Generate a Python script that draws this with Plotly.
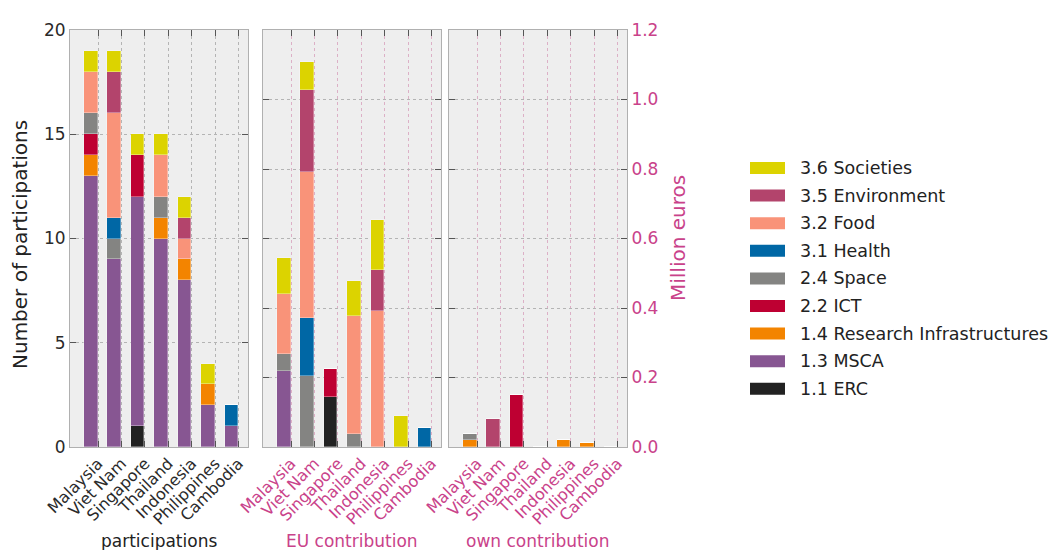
import plotly.graph_objects as go

countries = ["Malaysia", "Viet Nam", "Singapore", "Thailand", "Indonesia", "Philippines", "Cambodia"]
programmes = ["1.1 ERC", "1.3 MSCA", "1.4 Research Infrastructures", "2.2 ICT", "2.4 Space",
              "3.1 Health", "3.2 Food", "3.5 Environment", "3.6 Societies"]
colors = ["#222222", "#875692", "#F38400", "#BE0032", "#848482",
          "#0067A5", "#F99379", "#B3446C", "#DCD300"]

# Number of participations
participations = {
    "1.1 ERC":                      [0, 0, 1, 0, 0, 0, 0],
    "1.3 MSCA":                     [13, 9, 11, 10, 8, 2, 1],
    "1.4 Research Infrastructures": [1, 0, 0, 1, 1, 1, 0],
    "2.2 ICT":                      [1, 0, 2, 0, 0, 0, 0],
    "2.4 Space":                    [1, 1, 0, 1, 0, 0, 0],
    "3.1 Health":                   [0, 1, 0, 0, 0, 0, 1],
    "3.2 Food":                     [2, 5, 0, 2, 1, 0, 0],
    "3.5 Environment":              [0, 2, 0, 0, 1, 0, 0],
    "3.6 Societies":                [1, 1, 1, 1, 1, 1, 0],
}

# EU contribution (million euros)
eu_contribution = {
    "1.1 ERC":                      [0, 0, 0.144, 0, 0, 0, 0],
    "1.3 MSCA":                     [0.219, 0, 0, 0, 0, 0, 0],
    "1.4 Research Infrastructures": [0, 0, 0, 0, 0, 0, 0],
    "2.2 ICT":                      [0, 0, 0.081, 0, 0, 0, 0],
    "2.4 Space":                    [0.048, 0.203, 0, 0.038, 0, 0, 0],
    "3.1 Health":                   [0, 0.168, 0, 0, 0, 0, 0.055],
    "3.2 Food":                     [0.172, 0.420, 0, 0.338, 0.391, 0, 0],
    "3.5 Environment":              [0, 0.235, 0, 0, 0.119, 0, 0],
    "3.6 Societies":                [0.105, 0.083, 0, 0.103, 0.142, 0.088, 0],
}

# Own contribution (million euros)
own_contribution = {
    "1.1 ERC":                      [0, 0, 0, 0, 0, 0, 0],
    "1.3 MSCA":                     [0, 0, 0, 0, 0, 0, 0],
    "1.4 Research Infrastructures": [0.019, 0, 0, 0, 0.021, 0.011, 0],
    "2.2 ICT":                      [0, 0, 0.149, 0, 0, 0, 0],
    "2.4 Space":                    [0.017, 0, 0, 0, 0, 0, 0],
    "3.1 Health":                   [0, 0, 0, 0, 0, 0, 0],
    "3.2 Food":                     [0, 0, 0, 0, 0, 0, 0],
    "3.5 Environment":              [0, 0.080, 0, 0, 0, 0, 0],
    "3.6 Societies":                [0, 0, 0, 0, 0, 0, 0],
}

panel_titles = ["participations", "EU contribution", "own contribution"]

W, H = 1048, 550
PINK = "#c9428a"
DARK = "#2a2a2a"
FONT = "DejaVu Sans"

def px_x(p):
    return p / W

def px_y(p):
    return 1 - p / H

fig = go.Figure()

panels = [participations, eu_contribution, own_contribution]
axis_ids = ["", "2", "3"]
for data, aid in zip(panels, axis_ids):
    for prog, col in zip(programmes, colors):
        fig.add_trace(go.Bar(
            x=countries, y=data[prog], name=prog,
            xaxis="x" + aid, yaxis="y" + aid,
            marker=dict(color=col, line=dict(color="rgba(255,255,255,0.55)", width=0.6)),
            offset=-0.6, width=0.58, showlegend=False,
        ))

x_domains = [(70, 248), (263, 441), (449, 627)]
ydom = [px_y(447), px_y(30)]

common_x = dict(
    type="category", range=[-1.2, 6.4], tickangle=-45,
    showline=True, linecolor="#b0b0b0", linewidth=1, mirror="ticks",
    ticks="inside", ticklen=6, tickcolor="#555555",
    showgrid=True, griddash="dot", gridwidth=1, automargin=False,
    zeroline=False,
)
common_y = dict(
    showline=True, linecolor="#b0b0b0", linewidth=1, mirror="ticks",
    ticks="inside", ticklen=6, tickcolor="#555555",
    showgrid=True, griddash="dot", gridcolor="#b4b4b4", gridwidth=1,
    automargin=False, zeroline=False, domain=ydom,
)

layout = dict(
    width=W, height=H, margin=dict(l=0, r=0, t=0, b=0),
    paper_bgcolor="white", plot_bgcolor="#eeeeee",
    barmode="stack", bargap=0,
    font=dict(family=FONT, size=16, color=DARK),
    showlegend=False,
)

for i, aid in enumerate(axis_ids):
    d0, d1 = x_domains[i]
    xa = dict(common_x)
    xa.update(domain=[px_x(d0), px_x(d1)], anchor="y" + aid,
              tickfont=dict(family=FONT, size=16, color=DARK if i == 0 else PINK),
              gridcolor="#b4b4b4" if i == 0 else "#dcb0c6")
    layout["xaxis" + aid] = xa
    ya = dict(common_y)
    ya.update(anchor="x" + aid)
    if i == 0:
        ya.update(range=[0, 20], dtick=5, tickfont=dict(family=FONT, size=17, color=DARK))
    elif i == 1:
        ya.update(range=[0, 1.2], dtick=0.2, showticklabels=False)
    else:
        ya.update(range=[0, 1.2], dtick=0.2, side="right", tickformat=".1f",
                  tickfont=dict(family=FONT, size=17, color=PINK))
    layout["yaxis" + aid] = ya

fig.update_layout(**layout)

ann = []
ann.append(dict(text="Number of participations", x=px_x(20), y=px_y(245), xref="paper", yref="paper",
                showarrow=False, textangle=-90, font=dict(family=FONT, size=20, color="#222222"),
                xanchor="center", yanchor="middle"))
ann.append(dict(text="Million euros", x=px_x(678), y=px_y(238), xref="paper", yref="paper",
                showarrow=False, textangle=-90, font=dict(family=FONT, size=20, color=PINK),
                xanchor="center", yanchor="middle"))
for i, t in enumerate(panel_titles):
    d0, d1 = x_domains[i]
    ann.append(dict(text=t, x=px_x((d0 + d1) / 2), y=px_y(541), xref="paper", yref="paper",
                    showarrow=False, font=dict(family=FONT, size=17, color="#222222" if i == 0 else PINK),
                    xanchor="center", yanchor="middle"))

# Legend (top entry = last programme)
shapes = []
for k, (prog, col) in enumerate(reversed(list(zip(programmes, colors)))):
    cy = 168 + k * 27.6
    shapes.append(dict(type="rect", xref="paper", yref="paper",
                       x0=px_x(750), x1=px_x(785), y0=px_y(cy - 6), y1=px_y(cy + 6),
                       fillcolor=col, line=dict(width=0)))
    ann.append(dict(text=prog, x=px_x(798), y=px_y(cy), xref="paper", yref="paper",
                    showarrow=False, font=dict(family=FONT, size=17.5, color="#222222"),
                    xanchor="left", yanchor="middle"))

fig.update_layout(annotations=ann, shapes=shapes)
fig.write_html("out.html")
